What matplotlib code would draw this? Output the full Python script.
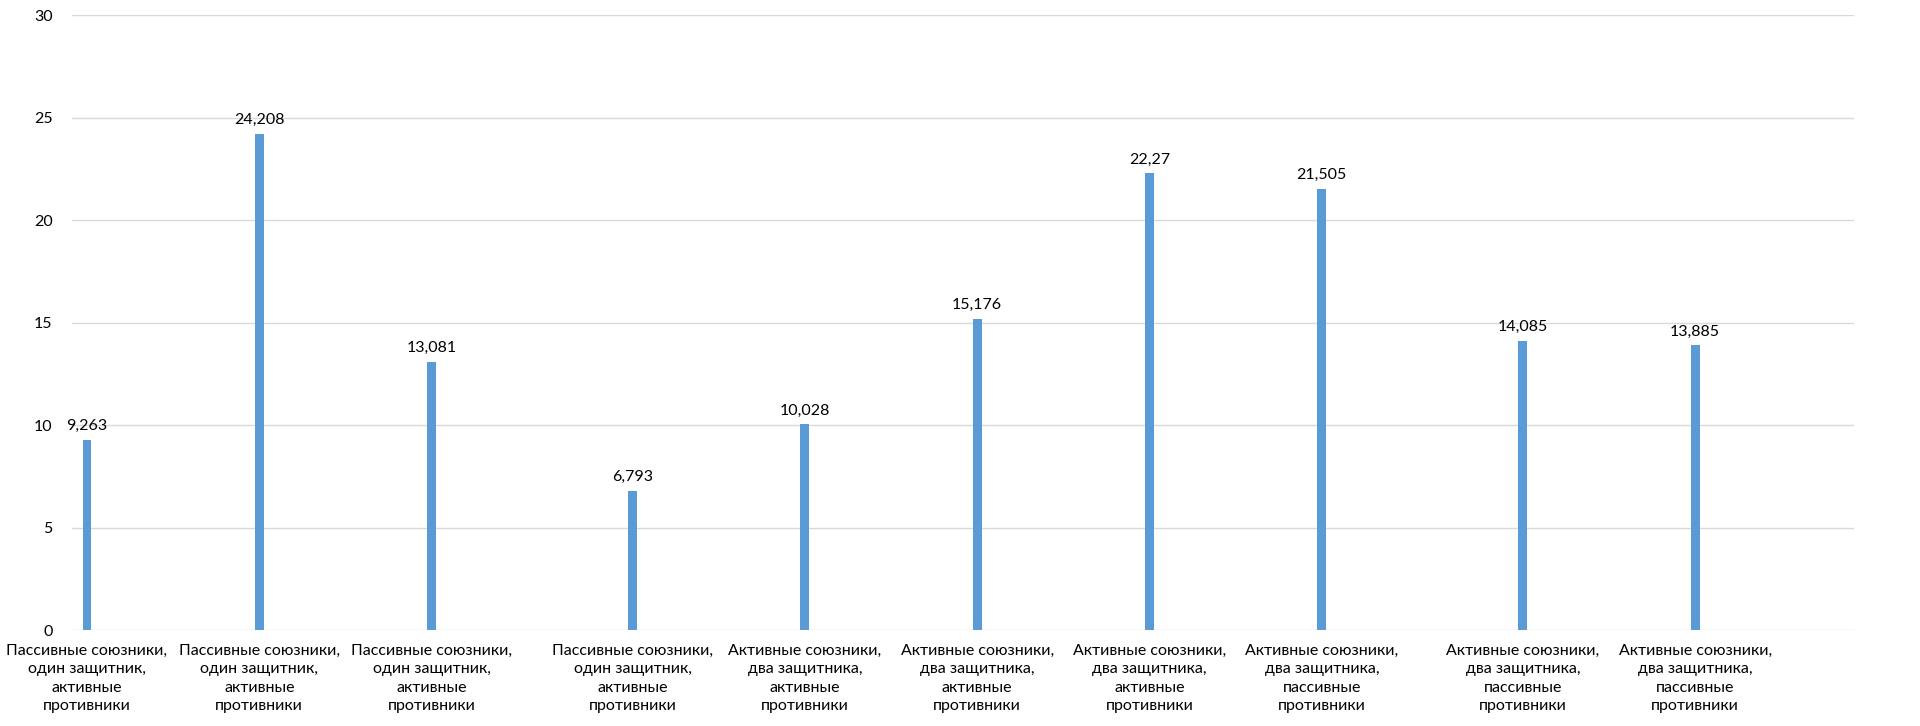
import numpy as np
import matplotlib
matplotlib.use("Agg")
import matplotlib.pyplot as plt

plt.rcParams['font.family'] = ['Lato', 'DejaVu Sans']

# данные с графика
labels = [
    "Пассивные союзники,\nодин защитник,\nактивные\nпротивники",
    "Пассивные союзники,\nодин защитник,\nактивные\nпротивники",
    "Пассивные союзники,\nодин защитник,\nактивные\nпротивники",
    "Пассивные союзники,\nодин защитник,\nактивные\nпротивники",
    "Активные союзники,\nдва защитника,\nактивные\nпротивники",
    "Активные союзники,\nдва защитника,\nактивные\nпротивники",
    "Активные союзники,\nдва защитника,\nактивные\nпротивники",
    "Активные союзники,\nдва защитника,\nпассивные\nпротивники",
    "Активные союзники,\nдва защитника,\nпассивные\nпротивники",
    "Активные союзники,\nдва защитника,\nпассивные\nпротивники",
]
values = [9.263, 24.208, 13.081, 6.793, 10.028, 15.176, 22.27, 21.505, 14.085, 13.885]
series = [0, 0, 0, 1, 1, 1, 1, 1, 2, 2]  # номер ряда в кластере
yticks = [0, 5, 10, 15, 20, 25, 30]

fig = plt.figure(figsize=(19.2, 7.26), dpi=100)
ax = fig.add_axes([0.0375, 0.1322, 0.9281, 0.8471])

x = np.arange(len(values)) + (np.array(series) - 1) / 6
bars = ax.bar(x, values, width=0.052, color="#5B9BD5", zorder=3)

for xi, v in zip(x, values):
    ax.annotate(str(v).replace(".", ","), (xi, v), xytext=(0, 5), textcoords="offset points",
                ha="center", va="bottom", fontsize=11.5, color="#000000")

ax.set_ylim(0, 30)
ax.set_yticks(yticks)
ax.set_xlim(x[0] - 0.087, x[0] + 10.255)
ax.set_xticks(x)
ax.set_xticklabels(labels, fontsize=11.5, color="#000000", linespacing=1.4)
ax.tick_params(axis="both", length=0, labelsize=11.5, colors="#000000")
ax.tick_params(axis="y", pad=14)
ax.tick_params(axis="x", pad=10)
ax.grid(axis="y", color="#D9D9D9", linewidth=1, zorder=0)
for s in ax.spines.values():
    s.set_visible(False)

plt.savefig("out.png", dpi=100)
